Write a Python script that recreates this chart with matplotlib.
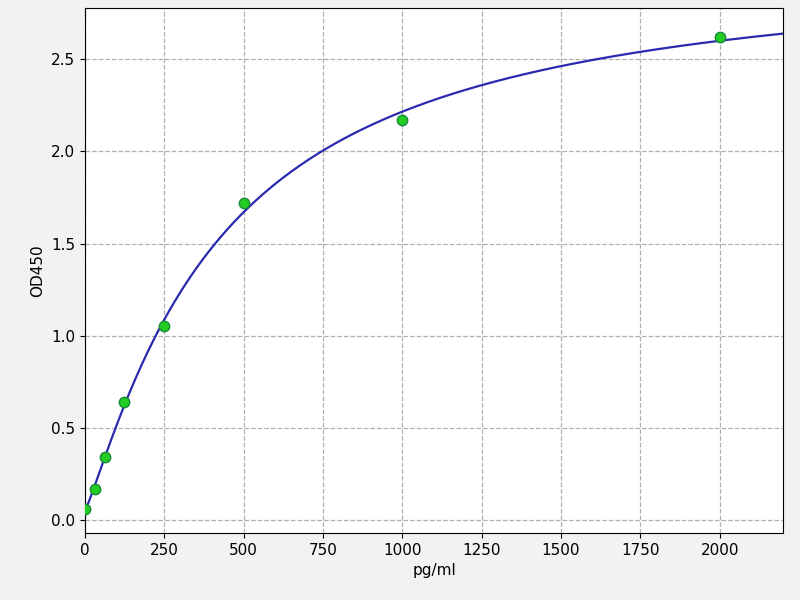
import numpy as np
import matplotlib
matplotlib.use("Agg")
import matplotlib.pyplot as plt

# standard curve points
conc = [0, 31.25, 62.5, 125, 250, 500, 1000, 2000]
od450 = [0.06, 0.17, 0.34, 0.64, 1.05, 1.72, 2.17, 2.62]


def fit_4pl(x, y):
    # grid search on slope/midpoint, linear least squares for the plateaus
    x = np.asarray(x, float)
    y = np.asarray(y, float)
    best = None
    for b in np.linspace(0.5, 2.5, 201):
        for c in np.logspace(1.5, 4, 301):
            g = 1.0 / (1.0 + (x / c) ** b)
            A = np.column_stack([g, 1 - g])
            coef, *_ = np.linalg.lstsq(A, y, rcond=None)
            err = np.sum((A @ coef - y) ** 2)
            if best is None or err < best[0]:
                best = (err, coef[0], b, c, coef[1])
    return best[1:]


a, b, c, d = fit_4pl(conc, od450)
xs = np.linspace(0, 2200, 500)
ys = d + (a - d) / (1.0 + (xs / c) ** b)

fig = plt.figure(figsize=(8, 6), dpi=100, facecolor="#f2f2f2")
ax = fig.add_axes([0.106, 0.112, 0.873, 0.875])
ax.set_facecolor("white")

ax.plot(xs, ys, color="#2a2ab0", linewidth=1.6, zorder=2)
ax.plot(conc, od450, "o", color="#22cc22", markeredgecolor="#1a8a3a",
        markersize=7.5, zorder=3)

ax.set_xlim(0, 2200)
ax.set_ylim(-0.07, 2.78)
ax.set_xticks([0, 250, 500, 750, 1000, 1250, 1500, 1750, 2000])
ax.set_yticks([0.0, 0.5, 1.0, 1.5, 2.0, 2.5])
ax.grid(True, linestyle="--", color="#b0b0b0", linewidth=0.9)
ax.set_axisbelow(True)

ax.set_xlabel("pg/ml", fontsize=11)
ax.set_ylabel("OD450", fontsize=11)
ax.tick_params(labelsize=11)

plt.savefig("out.png", dpi=100, facecolor=fig.get_facecolor())
